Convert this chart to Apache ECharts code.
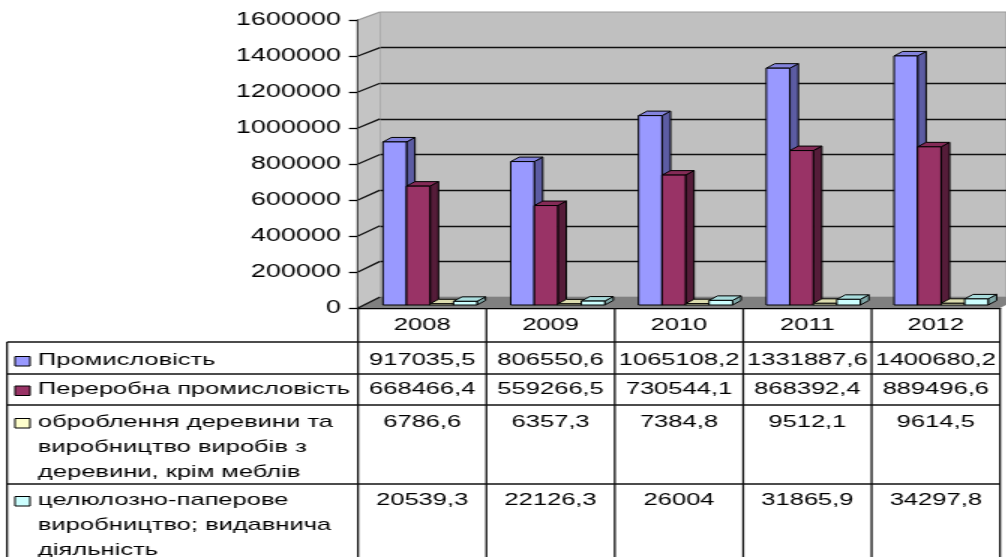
<!DOCTYPE html>
<html>
<head>
<meta charset="utf-8">
<script src="https://cdn.jsdelivr.net/npm/echarts@6/dist/echarts.min.js"></script>
<style>
html,body{margin:0;padding:0;background:#fff;overflow:hidden;}
#c{height:557px;transform-origin:0 0;}
</style>
</head>
<body>
<div id="c"></div>
<script>
// ---- data ----
const years = ['2008', '2009', '2010', '2011', '2012'];
const seriesNames = [
  'Промисловість',
  'Переробна промисловість',
  'оброблення деревини та\nвиробництво виробів з\nдеревини, крім меблів',
  'целюлозно-паперове\nвиробництво; видавнича\nдіяльність'
];
const industry = [917035.5, 806550.6, 1065108.2, 1331887.6, 1400680.2];
const manufacturing = [668466.4, 559266.5, 730544.1, 868392.4, 889496.6];
const woodworking = [6786.6, 6357.3, 7384.8, 9512.1, 9614.5];
const pulpPaper = [20539.3, 22126.3, 26004, 31865.9, 34297.8];
const yTicks = [0, 200000, 400000, 600000, 800000, 1000000, 1200000, 1400000, 1600000];

const allSeries = [industry, manufacturing, woodworking, pulpPaper];

// ---- styling ----
const SX = 1.5; // horizontal stretch of the whole picture
const X = v => v / SX;
const el = document.getElementById('c');
el.style.width = (1006 / SX) + 'px';
el.style.transform = 'scaleX(' + SX + ')';

const FONT = '"Liberation Sans", Arial, sans-serif';
const FS = 17;
const TXT = '#000';
const colors = [
  { front: '#9999ff', top: '#8383dc', side: '#5c5ca3' },
  { front: '#993366', top: '#842b57', side: '#551c39' },
  { front: '#ffffcc', top: '#dcdcae', side: '#a6a683' },
  { front: '#ccffff', top: '#a9dcdc', side: '#7fa6a6' }
];

const chart = echarts.init(el, null, { renderer: 'canvas' });

function renderBar(s) {
  return function (params, api) {
    const c = api.value(0), v = api.value(1);
    const base = api.coord([c, 0]);
    const top = api.coord([c, v]);
    const band = api.size([1, 0])[0];
    const bw = band * 0.184;
    const L = base[0] - 2 * bw + s * bw;
    const R = L + bw;
    const dx = 8.5 / SX, dy = -4.5;
    const yb = base[1], yt = top[1];
    const col = colors[s];
    const st = { stroke: '#000', lineWidth: 1 };
    return {
      type: 'group',
      children: [
        { type: 'polygon', shape: { points: [[R, yt], [R + dx, yt + dy], [R + dx, yb + dy], [R, yb]] },
          style: Object.assign({ fill: col.side }, st) },
        { type: 'polygon', shape: { points: [[L, yt], [L + dx, yt + dy], [R + dx, yt + dy], [R, yt]] },
          style: Object.assign({ fill: col.top }, st) },
        { type: 'rect', shape: { x: L, y: yt, width: bw, height: Math.max(yb - yt, 0.5) },
          style: Object.assign({ fill: col.front }, st) }
      ]
    };
  };
}

const option = {
  backgroundColor: '#ffffff',
  animation: false,
  grid: [
    { left: X(358), top: 20, width: X(1000) - X(358), height: 288 },
    { left: X(380), top: 12, width: X(1030) - X(380), height: 285, show: true,
      backgroundColor: '#c0c0c0', borderColor: '#999999', borderWidth: 1 },
    { left: X(366.1), top: 20.5, width: X(1005) - X(366.1), height: 284.5 }
  ],
  xAxis: [
    { type: 'category', gridIndex: 0, data: years,
      axisLine: { show: true, lineStyle: { color: '#000', width: 1.3 } },
      axisTick: { show: false }, axisLabel: { show: false } },
    { type: 'category', gridIndex: 1, data: years, show: false },
    { type: 'category', gridIndex: 2, data: years, show: false }
  ],
  yAxis: [
    { type: 'value', gridIndex: 0, min: 0, max: 1600000, interval: 200000,
      axisLine: { show: true, lineStyle: { color: '#000', width: 1.3 } },
      axisTick: { show: true, length: X(9), lineStyle: { color: '#000', width: 1.3 } },
      axisLabel: { show: true, margin: X(17), color: TXT, fontFamily: FONT, fontSize: 18,
        formatter: v => String(v) },
      splitLine: { show: false } },
    { type: 'value', gridIndex: 1, min: 0, max: 1600000, interval: 200000,
      axisLine: { show: false }, axisTick: { show: false }, axisLabel: { show: false },
      splitLine: { show: true, showMinLine: false, showMaxLine: false,
        lineStyle: { color: '#111', width: 1.4 } } },
    { type: 'value', gridIndex: 2, min: 0, max: 1600000, show: false, splitLine: { show: false } }
  ],
  series: allSeries.map((vals, s) => ({
    type: 'custom',
    name: seriesNames[s],
    xAxisIndex: 2,
    yAxisIndex: 2,
    z: 4,
    clip: false,
    renderItem: renderBar(s),
    encode: { x: 0, y: 1 },
    data: vals.map((v, i) => [i, v])
  }))
};

chart.setOption(option);

// ---- walls, floor and data table ----
const g = [];
// side wall
g.push({ type: 'polygon', z: 1,
  shape: { points: [[X(358), 20], [X(380), 12], [X(380), 297], [X(358), 308]] },
  style: { fill: '#c4c4c4' } });
yTicks.forEach((t, k) => {
  const yf = chart.convertToPixel({ yAxisIndex: 0 }, t);
  const yb = chart.convertToPixel({ yAxisIndex: 1 }, t);
  g.push({ type: 'line', z: 2,
    shape: { x1: X(358), y1: yf, x2: X(380), y2: yb },
    style: { stroke: k === yTicks.length - 1 ? '#999' : '#111', lineWidth: 1.3 } });
});
// floor
g.push({ type: 'polygon', z: 1,
  shape: { points: [[X(358), 308], [X(380), 297], [X(1022), 297], [X(1000), 308]] },
  style: { fill: '#808080' } });

// table
const rowLines = [342, 374, 405, 484];
const colEdges = [358, 486.4, 614.8, 743.2, 871.6, 1000];
const lineSt = { stroke: '#111', lineWidth: 1.3 };
rowLines.forEach(y => g.push({ type: 'line', z: 5, shape: { x1: X(7), y1: y, x2: X(1000), y2: y }, style: lineSt }));
g.push({ type: 'line', z: 5, shape: { x1: X(7), y1: 342, x2: X(7), y2: 560 }, style: lineSt });
colEdges.forEach(x => g.push({ type: 'line', z: 5, shape: { x1: X(x), y1: 308, x2: X(x), y2: 560 }, style: lineSt }));

const textStyle = (extra) => Object.assign({ fill: TXT, font: FS + 'px ' + FONT }, extra);
// header years
years.forEach((yr, i) => {
  const cx = (colEdges[i] + colEdges[i + 1]) / 2;
  g.push({ type: 'text', z: 6, x: X(cx), y: 325,
    style: textStyle({ text: yr, textAlign: 'center', textVerticalAlign: 'middle' }) });
});
const rowFirstLine = [360, 389.5, 422, 500];
const LH = 25;
allSeries.forEach((vals, s) => {
  const yc = rowFirstLine[s];
  g.push({ type: 'rect', z: 6,
    shape: { x: X(15), y: yc - 3.5, width: X(30) - X(15), height: 9.5 },
    style: { fill: colors[s].front, stroke: '#000', lineWidth: 1 } });
  g.push({ type: 'text', z: 6, x: X(38), y: yc - LH / 2,
    style: textStyle({ text: seriesNames[s], textAlign: 'left', textVerticalAlign: 'top', lineHeight: LH }) });
  vals.forEach((v, i) => {
    const cx = (colEdges[i] + colEdges[i + 1]) / 2;
    g.push({ type: 'text', z: 6, x: X(cx), y: yc - LH / 2,
      style: textStyle({ text: String(v).replace('.', ','), textAlign: 'center', textVerticalAlign: 'top', lineHeight: LH }) });
  });
});

chart.setOption({ graphic: { elements: g } });
</script>
</body>
</html>
